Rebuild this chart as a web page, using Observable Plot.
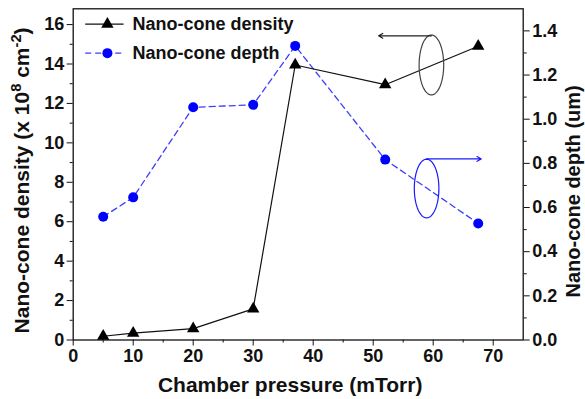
<!DOCTYPE html>
<html>
<head>
<meta charset="utf-8">
<script src="https://cdn.jsdelivr.net/npm/d3@7"></script>
<script src="https://cdn.jsdelivr.net/npm/@observablehq/plot@0.6"></script>
<style>
  html, body { margin: 0; padding: 0; background: #fff; }
  #chart { width: 585px; height: 399px; }
</style>
</head>
<body>
<div id="chart"></div>
<script>
// ---- data ----
const pressure = [5, 10, 20, 30, 37, 52, 67.5];          // mTorr
const density  = [0.19, 0.35, 0.58, 1.58, 13.95, 12.95, 14.9]; // x10^8 cm^-2
const depth    = [0.558, 0.646, 1.054, 1.065, 1.332, 0.817, 0.528]; // um
const xTicks = [0, 10, 20, 30, 40, 50, 60, 70];
const yLeftTicks = [0, 2, 4, 6, 8, 10, 12, 14, 16];
const yRightTicks = [0, 0.2, 0.4, 0.6, 0.8, 1.0, 1.2, 1.4];
const seriesNames = ["Nano-cone density", "Nano-cone depth"];

// ---- scales ----
const leftMax = 16.8, rightMax = 1.5;
const K = leftMax / rightMax; // maps depth onto the left scale

const rows = pressure.map((p, i) => ({p, density: density[i], depth: depth[i] * K}));

// annotation ellipses (in data units: pressure, left-axis units)
function ellipse(cx, cy, rx, ry) {
  return d3.range(0, 65).map(i => {
    const t = i / 64 * 2 * Math.PI;
    return {x: cx + rx * Math.cos(t), y: cy + ry * Math.sin(t)};
  });
}
const blackEll = ellipse(59.7, 13.95, 2.05, 1.52);
const blueEll = ellipse(58.9, 0.686 * K, 2.05, 1.49);
const arrows = [
  {x1: 59.7, y1: 15.43, x2: 50.9, y2: 15.43, c: "#222"},
  {x1: 58.9, y1: 0.82 * K, x2: 68.0, y2: 0.82 * K, c: "#1a1aff"}
];

// legend (placed in data units inside the frame)
const legend = [
  {x1: 2.0, x2: 8.4, xm: 5.7, y: 16.02, name: seriesNames[0]},
  {x1: 2.0, x2: 8.4, xm: 5.7, y: 14.55, name: seriesNames[1]}
];

const font = "'Liberation Sans', Arial, Helvetica, sans-serif";
const TICK = 18, TITLE = 21;

const chart = Plot.plot({
  width: 585,
  height: 399,
  marginLeft: 72.7,
  marginRight: 62.3,
  marginTop: 8.3,
  marginBottom: 59.5,
  style: {fontFamily: font, fontWeight: "bold", fontSize: "16px", color: "#111", background: "#fff"},
  x: {domain: [0, 75]},
  y: {domain: [0, leftMax]},
  marks: [
    // axes
    Plot.axisX({ticks: xTicks, tickSize: 6, tickPadding: 3, fontSize: TICK, fontWeight: "bold", label: null}),
    Plot.axisX({ticks: d3.range(5, 75, 10), tickSize: 3, text: null, label: null}),
    Plot.axisY({ticks: yLeftTicks, tickSize: 6, tickPadding: 3, fontSize: TICK, fontWeight: "bold", label: null, tickFormat: d => String(d)}),
    Plot.axisY({ticks: d3.range(1, 17, 2), tickSize: 3, text: null, label: null}),
    Plot.axisY({anchor: "right", ticks: yRightTicks.map(v => v * K), tickSize: 6, tickPadding: 3, fontSize: TICK, fontWeight: "bold", label: null,
      tickFormat: d => (d / K).toFixed(1)}),
    Plot.axisY({anchor: "right", ticks: d3.range(0.1, 1.5, 0.2).map(v => v * K), tickSize: 3, text: null, label: null}),
    Plot.frame({stroke: "#111", strokeWidth: 1.3}),

    // axis titles
    Plot.text([seriesNames[0] + " (x 10\u2078 cm\u207B\u00B2)"], {frameAnchor: "left", textAnchor: "middle", lineAnchor: "middle", dx: -51, dy: 6, rotate: -90, fontSize: TITLE, fontWeight: "bold", fill: "#111"}),
    Plot.text(["Nano-cone depth (um)"], {frameAnchor: "right", textAnchor: "middle", lineAnchor: "middle", dx: 50, dy: 17, rotate: -90, fontSize: 20, fontWeight: "bold", fill: "#111"}),
    Plot.text(["Chamber pressure (mTorr)"], {frameAnchor: "bottom", textAnchor: "middle", lineAnchor: "middle", dx: -8, dy: 45, fontSize: TITLE, fontWeight: "bold", fill: "#111"}),

    // series
    Plot.line(rows, {x: "p", y: "depth", stroke: "#3d3dff", strokeWidth: 1.3, strokeDasharray: "6,4"}),
    Plot.line(rows, {x: "p", y: "density", stroke: "#111", strokeWidth: 1.2}),
    Plot.dot(rows, {x: "p", y: "depth", r: 5, fill: "#0000ff", stroke: "none"}),
    Plot.dot(rows, {x: "p", y: "density", symbol: "triangle", r: 4.6, fill: "#000", stroke: "none"}),

    // annotations
    Plot.line(blackEll, {x: "x", y: "y", stroke: "#444", strokeWidth: 1.2}),
    Plot.line(blueEll, {x: "x", y: "y", stroke: "#1a1aff", strokeWidth: 1.2}),
    Plot.arrow(arrows, {x1: "x1", y1: "y1", x2: "x2", y2: "y2", stroke: "c", strokeWidth: 1.2, headLength: 6}),

    // legend
    Plot.link([legend[0]], {x1: "x1", x2: "x2", y1: "y", y2: "y", stroke: "#111", strokeWidth: 1.2}),
    Plot.link([legend[1]], {x1: "x1", x2: "x2", y1: "y", y2: "y", stroke: "#3d3dff", strokeWidth: 1.3, strokeDasharray: "6,4"}),
    Plot.dot([legend[0]], {x: "xm", y: "y", symbol: "triangle", r: 4.6, fill: "#000", stroke: "none"}),
    Plot.dot([legend[1]], {x: "xm", y: "y", r: 5, fill: "#0000ff", stroke: "none"}),
    Plot.text(legend, {x: "x2", y: "y", text: "name", dx: 9, textAnchor: "start", fontSize: 18, fontWeight: "bold", fill: "#111"})
  ]
});
document.getElementById("chart").appendChild(chart);

// real superscripts in the left axis title
d3.select(chart).selectAll("text")
  .filter(function() { return this.textContent.startsWith("Nano-cone density (x"); })
  .each(function() {
    const t = d3.select(this);
    t.text(null);
    t.append("tspan").text("Nano-cone density (x 10");
    t.append("tspan").attr("baseline-shift", "super").attr("font-size", "70%").text("8");
    t.append("tspan").text(" cm");
    t.append("tspan").attr("baseline-shift", "super").attr("font-size", "70%").text("-2");
    t.append("tspan").text(")");
  });
</script>
</body>
</html>
